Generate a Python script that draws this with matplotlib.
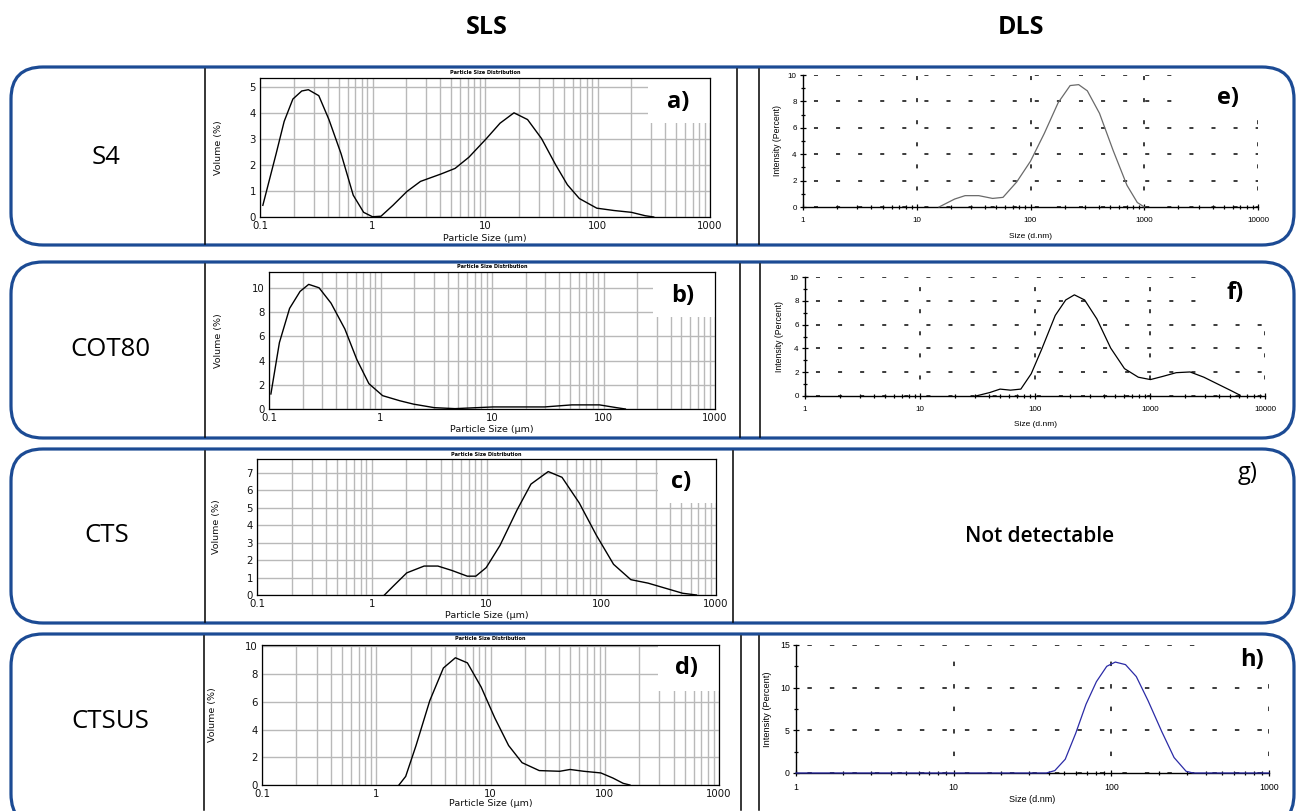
import matplotlib
matplotlib.use('Agg')
import matplotlib.pyplot as plt
import numpy as np
from matplotlib.patches import FancyBboxPatch, Rectangle
from matplotlib.lines import Line2D
from matplotlib.ticker import LogLocator, NullFormatter, MultipleLocator, FixedLocator, FixedFormatter

plt.rcParams['lines.scale_dashes'] = False

# ------------------------------------------------------------------ data
column_titles = ['SLS', 'DLS']
row_labels = ['S4', 'COT80', 'CTS', 'CTSUS']
panel_letters = ['a)', 'b)', 'c)', 'd)', 'e)', 'f)', 'g)', 'h)']
not_detectable_text = 'Not detectable'

sls_title = 'Particle Size Distribution'
sls_xlabel = 'Particle Size (\u00b5m)'
sls_ylabel = 'Volume (%)'
sls_xticks = [0.1, 1, 10, 100, 1000]
sls_xticklabels = ['0.1', '1', '10', '100', '1000']

dls_xlabel = 'Size (d.nm)'
dls_ylabel = 'Intensity (Percent)'
dls_xticks = [1, 10, 100, 1000, 10000]
dls_xticklabels = ['1', '10', '100', '1000', '10000']

# SLS (a) S4
a_size = [0.106, 0.139, 0.164, 0.196, 0.235, 0.269, 0.333, 0.41, 0.526, 0.674, 0.834, 1.0, 1.19,
          1.52, 2.02, 2.67, 4.09, 5.42, 7.19, 10.3, 13.6, 18.1, 23.9, 31.8, 42.2, 54, 69, 98.5,
          140, 200, 265, 316]
a_volume = [0.45, 2.43, 3.68, 4.54, 4.85, 4.9, 4.67, 3.75, 2.43, 0.84, 0.18, 0.01, 0.03,
            0.45, 0.98, 1.37, 1.66, 1.87, 2.3, 3.02, 3.61, 4.01, 3.75, 3.02, 2.03, 1.24, 0.71, 0.34,
            0.25, 0.18, 0.05, 0.0]
# SLS (b) COT80
b_size = [0.104, 0.124, 0.153, 0.19, 0.227, 0.281, 0.36, 0.479, 0.614, 0.787, 1.045, 1.49, 1.98,
          3.04, 4.66, 10.2, 29.6, 52, 92, 131, 157]
b_volume = [1.24, 5.48, 8.3, 9.7, 10.28, 10.0, 8.73, 6.6, 4.07, 2.09, 1.1, 0.68, 0.4,
            0.11, 0.03, 0.17, 0.17, 0.34, 0.34, 0.11, 0.0]
# SLS (c) CTS
c_size = [1.29, 1.53, 2.02, 2.86, 3.77, 4.98, 6.8, 8.07, 9.94, 13.1, 18.5, 24.4, 34.5, 45.5,
          64.3, 90.8, 128, 181, 256, 362, 512, 676]
c_volume = [0.0, 0.49, 1.27, 1.66, 1.66, 1.41, 1.08, 1.08, 1.57, 2.84, 4.89, 6.36, 7.08, 6.75,
            5.28, 3.42, 1.76, 0.88, 0.68, 0.39, 0.1, 0.0]
# SLS (d) CTSUS
d_size = [1.58, 1.81, 2.23, 2.94, 3.87, 4.93, 6.28, 8.28, 10.9, 14.4, 18.9, 26.7, 40.4, 49.7,
          65.5, 92.5, 118, 145, 166]
d_volume = [0.0, 0.62, 2.85, 6.08, 8.44, 9.18, 8.81, 7.07, 4.84, 2.85, 1.61, 1.04, 0.99, 1.12,
            0.99, 0.87, 0.5, 0.12, 0.0]

# DLS (e) S4
e_size = [15.7, 21.5, 26.6, 35.1, 46.4, 57.3, 75.7, 100, 132, 175, 223, 265, 316, 404, 534,
          705, 869, 1000]
e_intensity = [0.0, 0.6, 0.86, 0.86, 0.65, 0.73, 1.9, 3.47, 5.56, 7.9, 9.2, 9.27, 8.8, 7.1, 4.26,
               1.64, 0.34, 0.0]
# DLS (f) COT80
f_size = [30.6, 40.4, 49.7, 61.2, 75.3, 92.7, 114, 150, 185, 220, 270, 345, 455, 600, 791, 1008,
          1283, 1690, 2230, 2940, 4160, 5120, 6080]
f_intensity = [0.0, 0.29, 0.58, 0.49, 0.58, 1.87, 3.9, 6.77, 8.07, 8.5, 8.07, 6.48, 4.03, 2.3,
               1.58, 1.38, 1.64, 1.96, 2.02, 1.58, 0.86, 0.43, 0.06]
# DLS (h) CTSUS
h_size = [1, 38.7, 43.8, 51, 59.4, 69.1, 80.4, 93.5, 106, 123, 144, 171, 209, 250, 298, 330, 1000]
h_intensity = [0.0, 0.0, 0.28, 1.61, 4.64, 8.06, 10.7, 12.5, 13.0, 12.7, 11.3, 8.47, 4.84, 1.81,
               0.2, 0.0, 0.0]

# ------------------------------------------------------------------ figure
W, H = 1305, 811
fig = plt.figure(figsize=(W / 100, H / 100), dpi=100)
bg = fig.add_axes([0, 0, 1, 1])
bg.set_xlim(0, W)
bg.set_ylim(H, 0)
bg.axis('off')

BLUE = '#1c4b94'
TXT_FONT = ['Open Sans', 'DejaVu Sans']


def add_ax(left, top, right, bottom):
    return fig.add_axes([left / W, 1 - bottom / H, (right - left) / W, (bottom - top) / H])


# rounded row boxes
row_boxes = [(11, 67, 1294, 245), (11, 262, 1294, 438), (11, 449, 1294, 623), (11, 634, 1294, 826)]
for (x0, y0, x1, y1) in row_boxes:
    bg.add_patch(FancyBboxPatch((x0, y0), x1 - x0, y1 - y0,
                                boxstyle='round,pad=0,rounding_size=32',
                                fc='white', ec=BLUE, lw=2.3, clip_on=False))

# divider lines inside the boxes
dividers = [(205, 67, 245), (737, 67, 245), (759, 67, 245),
            (205, 262, 438), (740, 262, 438), (760, 262, 438),
            (205, 449, 623), (733, 449, 623),
            (204, 634, 811), (741, 634, 811), (759, 634, 811)]
for (x, ya, yb) in dividers:
    bg.add_line(Line2D([x, x], [ya + 1.5, yb - 1.5], color='black', lw=1.1))

# column headers
bg.text(487, 27, column_titles[0], ha='center', va='center', fontsize=18,
        fontweight='bold', family=TXT_FONT)
bg.text(1021, 27, column_titles[1], ha='center', va='center', fontsize=18,
        fontweight='bold', family=TXT_FONT)

# row labels
row_label_pos = [(106, 157), (110, 350), (107, 535), (110, 722)]
for lab, (x, y) in zip(row_labels, row_label_pos):
    bg.text(x, y, lab, ha='center', va='center', fontsize=18.5, family=TXT_FONT)

GRID_GREY = '#b9b9b9'


def sls_panel(rect, size, vol, ytop, ystep, mask, title_y, xlab_off, ylab_x):
    left, top, right, bottom = rect
    ax = add_ax(left, top, right, bottom)
    ax.plot(size, vol, color='black', lw=1.0, zorder=3)
    ax.set_xscale('log')
    ax.set_xlim(0.1, 1000)
    ax.set_ylim(0, ytop)
    ax.xaxis.set_major_locator(FixedLocator(sls_xticks))
    ax.xaxis.set_major_formatter(FixedFormatter(sls_xticklabels))
    ax.xaxis.set_minor_locator(LogLocator(base=10, subs=np.arange(2, 10)))
    ax.xaxis.set_minor_formatter(NullFormatter())
    ax.yaxis.set_major_locator(MultipleLocator(ystep))
    ax.tick_params(which='both', length=0, labelsize=7.3, pad=3, labelcolor='#111111')
    ax.grid(which='both', axis='x', color=GRID_GREY, lw=1.0)
    ax.grid(which='major', axis='y', color=GRID_GREY, lw=1.0)
    for s in ax.spines.values():
        s.set_linewidth(0.9)
    mx, my = mask
    ax.add_patch(Rectangle((mx, my), 1000 - mx, ytop - my, fc='white', ec='none', zorder=1.8))
    h = bottom - top
    w = right - left
    ax.set_xlabel(sls_xlabel, fontsize=6.8, va='center', color='#111111')
    ax.xaxis.set_label_coords(0.5, -xlab_off / h)
    ax.set_ylabel(sls_ylabel, fontsize=6.8, va='center', color='#111111')
    ax.yaxis.set_label_coords(-(left - ylab_x) / w, 0.5)
    bg.text((left + right) / 2, title_y, sls_title, ha='center', va='center', fontsize=3.6,
            fontweight='bold')
    return ax


def dls_panel(rect, size, inten, xmax, ytop, ystep, color, mask, dash, xlab_off, ylab_x,
              fs=5.8):
    left, top, right, bottom = rect
    ax = add_ax(left, top, right, bottom)
    ax.plot(size, inten, color=color, lw=0.9, zorder=3, clip_on=False)
    ax.set_xscale('log')
    ax.set_xlim(1, xmax)
    ax.set_ylim(0, ytop)
    n = int(round(np.log10(xmax))) + 1
    ax.xaxis.set_major_locator(FixedLocator(dls_xticks[:n]))
    ax.xaxis.set_major_formatter(FixedFormatter(dls_xticklabels[:n]))
    ax.xaxis.set_minor_locator(LogLocator(base=10, subs=np.arange(2, 10)))
    ax.xaxis.set_minor_formatter(NullFormatter())
    ax.yaxis.set_major_locator(MultipleLocator(ystep))
    ax.yaxis.set_minor_locator(MultipleLocator(ystep / 2))
    ax.spines['top'].set_visible(False)
    ax.spines['right'].set_visible(False)
    for s in ('left', 'bottom'):
        ax.spines[s].set_linewidth(1.0)
    ax.tick_params(which='major', direction='inout', length=4, width=0.9, labelsize=fs, pad=2.5)
    ax.tick_params(which='minor', direction='inout', length=2.5, width=0.9)
    ax.tick_params(axis='x', which='major', pad=5)
    ax.grid(which='major', axis='y', color='#1a1a1a', lw=1.2, linestyle=(8, dash))
    ax.grid(which='major', axis='x', color='#1a1a1a', lw=1.2, linestyle=(4, dash))
    mx, my = mask
    ax.add_patch(Rectangle((mx, my), xmax * 1.5 - mx, ytop * 1.2 - my, fc='white', ec='none',
                           zorder=1.8))
    h = bottom - top
    w = right - left
    ax.set_xlabel(dls_xlabel, fontsize=fs + 0.2, va='center', family='Liberation Sans')
    ax.xaxis.set_label_coords(0.5, -xlab_off / h)
    ax.set_ylabel(dls_ylabel, fontsize=fs + 0.4, va='center', family='Liberation Sans')
    ax.yaxis.set_label_coords(-(left - ylab_x) / w, 0.5)
    for t in ax.get_xticklabels() + ax.get_yticklabels():
        t.set_family('Liberation Sans')
    return ax


# SLS panels
sls_panel((260, 78, 710, 217), a_size, a_volume, 5.35, 1, (280, 3.6), 72.5, 21, 218)
sls_panel((269, 272, 715, 409), b_size, b_volume, 11.3, 2, (280, 7.6), 267, 21, 218)
sls_panel((257, 459, 716, 595), c_size, c_volume, 7.8, 1, (310, 5.3), 454, 20, 216)
sls_panel((262, 645, 719, 785), d_size, d_volume, 10.1, 2, (290, 6.8), 638, 18, 213)

# DLS panels
dls_panel((803, 75, 1258, 207), e_size, e_intensity, 10000, 10, 2, '#6a6a6a',
          (2200, 6.6), (2.9, 13), 30, 778)
dls_panel((805, 277, 1265, 396), f_size, f_intensity, 10000, 10, 2, 'black',
          (3000, 6.4), (2.9, 13), 28, 779)
dls_panel((796, 645, 1269, 773), h_size, h_intensity, 1000, 15, 5, '#2b2ba6',
          (370, 10.7), (3.2, 13), 26, 768, fs=6.3)

bg.text(1040, 537, not_detectable_text, ha='center', va='center', fontsize=15,
        fontweight='semibold', family=TXT_FONT)

# panel letters on a transparent overlay above the panel axes
ov = fig.add_axes([0, 0, 1, 1])
ov.set_xlim(0, W)
ov.set_ylim(H, 0)
ov.axis('off')
ov.patch.set_alpha(0)
letter_pos = [(678, 102), (683, 296), (681, 482), (686, 668),
              (1228, 98), (1235, 293), (1248, 473), (1252, 660)]
for lab, (x, y) in zip(panel_letters, letter_pos):
    ov.text(x, y, lab, ha='center', va='center', fontsize=17,
            fontweight='normal' if lab == 'g)' else 'bold', family=TXT_FONT)

fig.savefig('out.png', dpi=100)
